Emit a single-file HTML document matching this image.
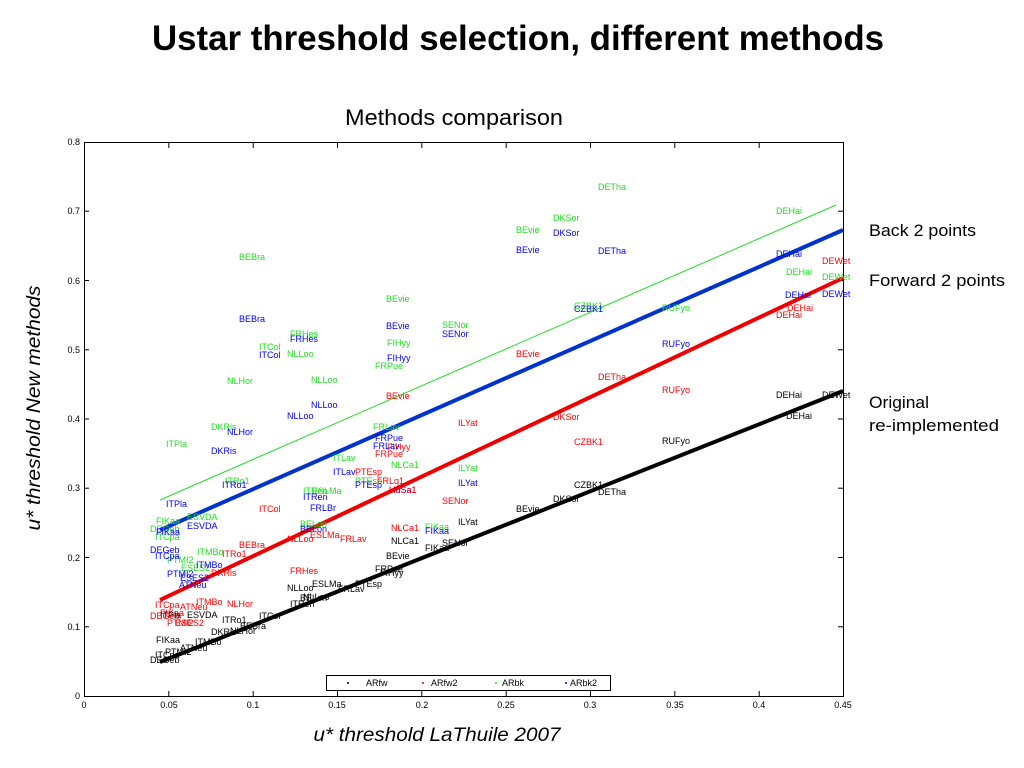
<!DOCTYPE html>
<html><head><meta charset="utf-8"><style>
html,body{margin:0;padding:0;background:#fff;width:1024px;height:768px;overflow:hidden}
svg{display:block}
.l{font-family:"Liberation Sans",sans-serif;font-size:9px}
.k{fill:#000}.r{fill:#ff0000}.g{fill:#22dd22}.b{fill:#0000ff}
.t{font-family:"Liberation Sans",sans-serif;font-size:9px;fill:#000}
</style></head><body>
<svg width="1024" height="768" xmlns="http://www.w3.org/2000/svg">
<text x="518" y="50" text-anchor="middle" font-family="Liberation Sans,sans-serif" font-weight="bold" font-size="35" textLength="732" lengthAdjust="spacingAndGlyphs">Ustar threshold selection, different methods</text>
<text x="454" y="125" text-anchor="middle" font-family="Liberation Sans,sans-serif" font-size="22" textLength="218" lengthAdjust="spacingAndGlyphs">Methods comparison</text>
<text transform="translate(40,408) rotate(-90)" text-anchor="middle" font-family="Liberation Sans,sans-serif" font-style="italic" font-size="19" textLength="245" lengthAdjust="spacingAndGlyphs">u* threshold New methods</text>
<text x="437" y="741" text-anchor="middle" font-family="Liberation Sans,sans-serif" font-style="italic" font-size="19" textLength="247" lengthAdjust="spacingAndGlyphs">u* threshold LaThuile 2007</text>
<g font-family="Liberation Sans,sans-serif" font-size="17">
<text x="869" y="236" textLength="107" lengthAdjust="spacingAndGlyphs">Back 2 points</text>
<text x="869" y="286" textLength="136" lengthAdjust="spacingAndGlyphs">Forward 2 points</text>
<text x="869" y="408" textLength="60" lengthAdjust="spacingAndGlyphs">Original</text>
<text x="869" y="431" textLength="130" lengthAdjust="spacingAndGlyphs">re-implemented</text>
</g>
<rect x="84.5" y="142.5" width="759" height="554" fill="none" stroke="#000" stroke-width="1"/>
<g stroke="#000" stroke-width="1">
<line x1="84.5" y1="696" x2="84.5" y2="691"/><line x1="168.8" y1="696" x2="168.8" y2="691"/><line x1="253.2" y1="696" x2="253.2" y2="691"/><line x1="337.5" y1="696" x2="337.5" y2="691"/><line x1="421.8" y1="696" x2="421.8" y2="691"/><line x1="506.2" y1="696" x2="506.2" y2="691"/><line x1="590.5" y1="696" x2="590.5" y2="691"/><line x1="674.8" y1="696" x2="674.8" y2="691"/><line x1="759.2" y1="696" x2="759.2" y2="691"/>
<line x1="168.8" y1="143" x2="168.8" y2="148"/><line x1="253.2" y1="143" x2="253.2" y2="148"/><line x1="337.5" y1="143" x2="337.5" y2="148"/><line x1="421.8" y1="143" x2="421.8" y2="148"/><line x1="506.2" y1="143" x2="506.2" y2="148"/><line x1="590.5" y1="143" x2="590.5" y2="148"/><line x1="674.8" y1="143" x2="674.8" y2="148"/><line x1="759.2" y1="143" x2="759.2" y2="148"/>
<line x1="84" y1="626.8" x2="89" y2="626.8"/><line x1="84" y1="557.5" x2="89" y2="557.5"/><line x1="84" y1="488.2" x2="89" y2="488.2"/><line x1="84" y1="419" x2="89" y2="419"/><line x1="84" y1="349.8" x2="89" y2="349.8"/><line x1="84" y1="280.5" x2="89" y2="280.5"/><line x1="84" y1="211.2" x2="89" y2="211.2"/>
<line x1="843" y1="626.8" x2="838" y2="626.8"/><line x1="843" y1="557.5" x2="838" y2="557.5"/><line x1="843" y1="488.2" x2="838" y2="488.2"/><line x1="843" y1="419" x2="838" y2="419"/><line x1="843" y1="349.8" x2="838" y2="349.8"/><line x1="843" y1="280.5" x2="838" y2="280.5"/><line x1="843" y1="211.2" x2="838" y2="211.2"/>
</g>
<g class="t" text-anchor="middle">
<text x="84" y="708">0</text><text x="169" y="708">0.05</text><text x="253" y="708">0.1</text><text x="337" y="708">0.15</text><text x="422" y="708">0.2</text><text x="506" y="708">0.25</text><text x="590" y="708">0.3</text><text x="675" y="708">0.35</text><text x="759" y="708">0.4</text><text x="843" y="708">0.45</text>
</g>
<g class="t" text-anchor="end">
<text x="80" y="699">0</text><text x="80" y="630">0.1</text><text x="80" y="561">0.2</text><text x="80" y="491">0.3</text><text x="80" y="422">0.4</text><text x="80" y="353">0.5</text><text x="80" y="284">0.6</text><text x="80" y="214">0.7</text><text x="80" y="145">0.8</text>
</g>
<line x1="160" y1="500" x2="836" y2="205" stroke="#22dd22" stroke-width="1"/>
<line x1="160" y1="530" x2="843" y2="230" stroke="#0033cc" stroke-width="4"/>
<line x1="160" y1="600" x2="843" y2="278" stroke="#ee0000" stroke-width="4"/>
<line x1="160" y1="662" x2="843" y2="391" stroke="#000" stroke-width="4"/>
<g class="l g">
<text x="598" y="190">DETha</text><text x="553" y="221">DKSor</text><text x="516" y="233">BEvie</text><text x="776" y="214">DEHai</text><text x="239" y="260">BEBra</text><text x="786" y="275">DEHai</text><text x="822" y="280">DEWet</text><text x="662" y="311">RUFyo</text><text x="574" y="309">CZBK1</text><text x="386" y="302">BEvie</text><text x="290" y="337">FRHes</text><text x="259" y="350">ITCol</text><text x="287" y="357">NLLoo</text><text x="442" y="328">SENor</text><text x="387" y="346">FIHyy</text><text x="375" y="369">FRPue</text><text x="227" y="384">NLHor</text><text x="311" y="383">NLLoo</text><text x="211" y="430">DKRis</text><text x="373" y="430">FRLav</text><text x="166" y="447">ITPla</text><text x="333" y="461">ITLav</text><text x="391" y="468">NLCa1</text><text x="458" y="471">ILYat</text><text x="225" y="484">ITRo1</text><text x="303" y="494">ITRen</text><text x="312" y="494">ESLMa</text><text x="355" y="484">PTEsp</text><text x="156" y="524">FIKaa</text><text x="187" y="520">ESVDA</text><text x="150" y="532">DEGeb</text><text x="155" y="540">ITCpa</text><text x="300" y="527">BELon</text><text x="425" y="530">FIKaa</text><text x="197" y="555">ITMBo</text><text x="167" y="563">PTMI2</text><text x="181" y="571">ESES2</text>
</g>
<g class="l b">
<text x="516" y="253">BEvie</text><text x="553" y="236">DKSor</text><text x="598" y="254">DETha</text><text x="776" y="257">DEHai</text><text x="785" y="298">DEHai</text><text x="822" y="297">DEWet</text><text x="574" y="312">CZBK1</text><text x="239" y="322">BEBra</text><text x="290" y="342">FRHes</text><text x="259" y="358">ITCol</text><text x="386" y="329">BEvie</text><text x="442" y="337">SENor</text><text x="387" y="361">FIHyy</text><text x="662" y="347">RUFyo</text><text x="311" y="408">NLLoo</text><text x="227" y="435">NLHor</text><text x="287" y="419">NLLoo</text><text x="211" y="454">DKRis</text><text x="375" y="441">FRPue</text><text x="373" y="449">FRLav</text><text x="333" y="475">ITLav</text><text x="222" y="488">ITRo1</text><text x="355" y="488">PTEsp</text><text x="458" y="486">ILYat</text><text x="303" y="500">ITRen</text><text x="310" y="511">FRLBr</text><text x="166" y="507">ITPla</text><text x="187" y="529">ESVDA</text><text x="156" y="535">FIKaa</text><text x="150" y="553">DEGeb</text><text x="155" y="559">ITCpa</text><text x="300" y="532">BELon</text><text x="425" y="534">FIKaa</text><text x="196" y="568">ITMBo</text><text x="167" y="577">PTMI2</text><text x="180" y="581">ESES2</text><text x="179" y="588">ATNeu</text><text x="389" y="493">HuSa1</text>
</g>
<g class="l r">
<text x="822" y="264">DEWet</text><text x="787" y="311">DEHai</text><text x="776" y="318">DEHai</text><text x="598" y="380">DETha</text><text x="662" y="393">RUFyo</text><text x="516" y="357">BEvie</text><text x="386" y="399">BEvie</text><text x="458" y="426">ILYat</text><text x="553" y="420">DKSor</text><text x="387" y="450">FIHyy</text><text x="375" y="457">FRPue</text><text x="355" y="475">PTEsp</text><text x="377" y="484">FRLq1</text><text x="389" y="493">HuSa1</text><text x="574" y="445">CZBK1</text><text x="442" y="504">SENor</text><text x="259" y="512">ITCol</text><text x="391" y="531">NLCa1</text><text x="239" y="548">BEBra</text><text x="287" y="542">NLLoo</text><text x="310" y="538">ESLMa</text><text x="340" y="542">FRLav</text><text x="222" y="557">ITRo1</text><text x="211" y="576">DKRis</text><text x="290" y="574">FRHes</text><text x="196" y="605">ITMBo</text><text x="227" y="607">NLHor</text><text x="180" y="610">ATNeu</text><text x="155" y="608">ITCpa</text><text x="150" y="619">DEGeb</text><text x="160" y="616">FIKaa</text><text x="167" y="626">PTMI2</text><text x="175" y="626">ESES2</text>
</g>
<g class="l k">
<text x="822" y="398">DEWet</text><text x="776" y="398">DEHai</text><text x="786" y="419">DEHai</text><text x="662" y="444">RUFyo</text><text x="598" y="495">DETha</text><text x="574" y="488">CZBK1</text><text x="553" y="502">DKSor</text><text x="516" y="512">BEvie</text><text x="458" y="525">ILYat</text><text x="442" y="546">SENor</text><text x="425" y="551">FIKaa</text><text x="391" y="544">NLCa1</text><text x="386" y="559">BEvie</text><text x="375" y="572">FRPue</text><text x="380" y="576">FIHyy</text><text x="355" y="587">PTEsp</text><text x="338" y="592">FRLav</text><text x="312" y="587">ESLMa</text><text x="287" y="591">NLLoo</text><text x="300" y="601">BELon</text><text x="290" y="607">ITRen</text><text x="303" y="600">NLLoo</text><text x="259" y="619">ITCol</text><text x="222" y="623">ITRo1</text><text x="240" y="629">BEBra</text><text x="211" y="635">DKRis</text><text x="230" y="634">NLHor</text><text x="156" y="643">FIKaa</text><text x="195" y="645">ITMBo</text><text x="180" y="651">ATNeu</text><text x="165" y="655">PTMI2</text><text x="155" y="658">ITCpa</text><text x="150" y="663">DEGeb</text><text x="187" y="618">ESVDA</text><text x="160" y="618">ITPla</text>
</g>
<rect x="326.5" y="675.5" width="284" height="15" fill="#fff" stroke="#000" stroke-width="1"/>
<circle cx="348" cy="683" r="1" fill="#000"/><circle cx="423" cy="683" r="1" fill="#f00"/><circle cx="496" cy="683" r="1" fill="#2d2"/><circle cx="566" cy="683" r="1" fill="#00f"/>
<g class="t"><text x="366" y="686">ARfw</text><text x="431" y="686">ARfw2</text><text x="502" y="686">ARbk</text><text x="570" y="686">ARbk2</text></g>
</svg>
</body></html>
